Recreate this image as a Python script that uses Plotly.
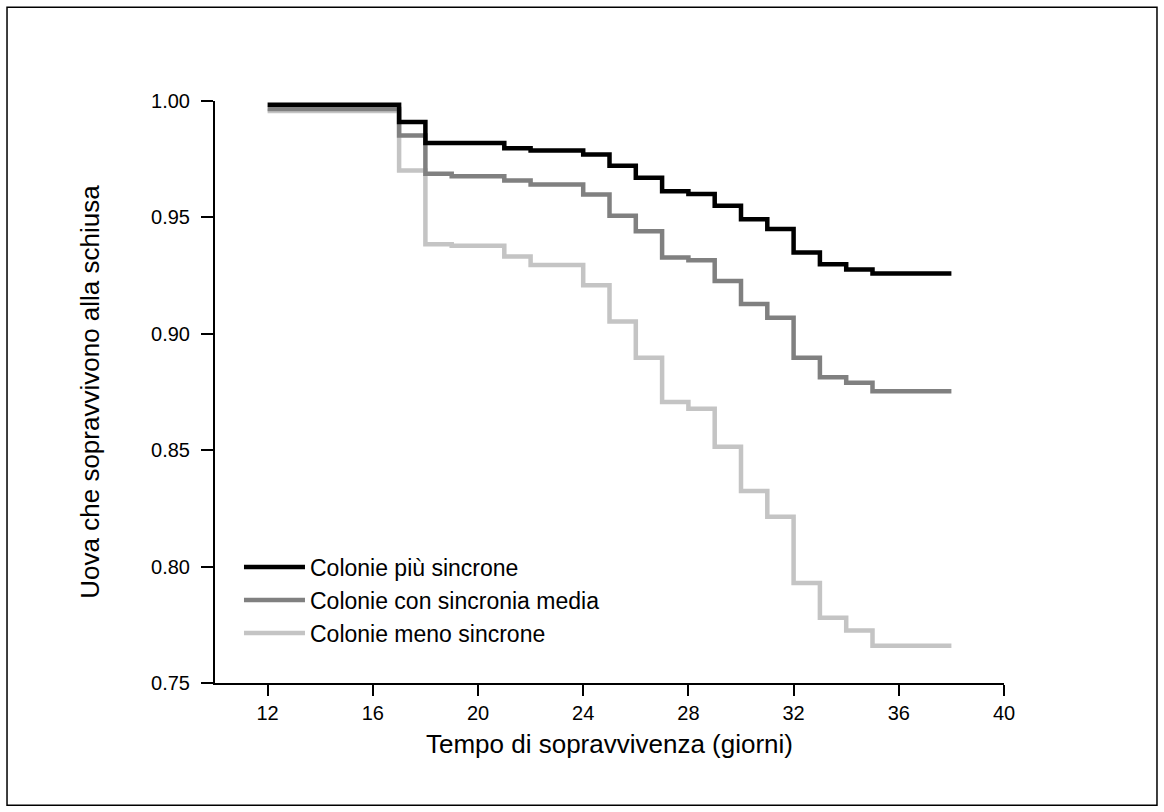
import plotly.graph_objects as go

# Survival data (days, survival fraction)
days_sync = [12, 17, 18, 21, 22, 24, 25, 26, 27, 28, 29, 30, 31, 32, 33, 34, 35, 38]
surv_sync = [0.9984, 0.9910, 0.9820, 0.9797, 0.9787, 0.9770, 0.9722, 0.9670, 0.9612,
             0.9601, 0.9550, 0.9492, 0.9450, 0.9349, 0.9299, 0.9276, 0.9259, 0.9259]

days_mid = [12, 17, 18, 19, 21, 22, 24, 25, 26, 27, 28, 29, 30, 31, 32, 33, 34, 35, 38]
surv_mid = [0.9966, 0.9852, 0.9687, 0.9677, 0.9658, 0.9641, 0.9598, 0.9507, 0.9440,
            0.9328, 0.9316, 0.9227, 0.9128, 0.9069, 0.8897, 0.8813, 0.8790, 0.8753, 0.8753]

days_less = [12, 17, 18, 19, 21, 22, 24, 25, 26, 27, 28, 29, 30, 31, 32, 33, 34, 35, 38]
surv_less = [0.9957, 0.9701, 0.9385, 0.9378, 0.9332, 0.9296, 0.9209, 0.9053, 0.8897,
             0.8707, 0.8678, 0.8515, 0.8325, 0.8214, 0.7930, 0.7780, 0.7725, 0.7660, 0.7660]

series_names = ["Colonie più sincrone", "Colonie con sincronia media", "Colonie meno sincrone"]
series_colors = ["#000000", "#808080", "#c4c4c4"]

x_ticks = [12, 16, 20, 24, 28, 32, 36, 40]
y_ticks = [0.75, 0.80, 0.85, 0.90, 0.95, 1.00]

FONT = "Liberation Sans, Arial, sans-serif"

fig = go.Figure()
# draw light first so darker lines sit on top
for d, s, n, c in reversed(list(zip([days_sync, days_mid, days_less],
                                    [surv_sync, surv_mid, surv_less],
                                    series_names, series_colors))):
    fig.add_trace(go.Scatter(x=d, y=s, mode="lines", name=n,
                             line=dict(color=c, width=4.5, shape="hv")))

fig.update_layout(
    width=1164, height=812,
    margin=dict(l=215, r=160, t=101, b=129),
    paper_bgcolor="white", plot_bgcolor="white",
    font=dict(family=FONT, size=20, color="#000000"),
    showlegend=True,
    legend=dict(x=0.0304, y=0.236, xanchor="left", yanchor="top",
                traceorder="reversed", bgcolor="rgba(0,0,0,0)",
                itemwidth=61,
                font=dict(family=FONT, size=23), tracegroupgap=0),
    xaxis=dict(range=[10, 40], tickvals=x_ticks, ticktext=[str(v) for v in x_ticks],
               showgrid=False, zeroline=False, showline=True, linecolor="black", linewidth=2,
               ticks="outside", ticklen=11, tickwidth=2, tickcolor="black",
               title=dict(text="Tempo di sopravvivenza (giorni)", standoff=12,
                          font=dict(size=26))),
    yaxis=dict(range=[0.75, 1.0], tickvals=y_ticks, tickformat=".2f",
               showgrid=False, zeroline=False, showline=True, linecolor="black", linewidth=2,
               ticks="outside", ticklen=12, tickwidth=2, tickcolor="black",
               ticklabelstandoff=7,
               title=dict(text="Uova che sopravvivono alla schiusa", standoff=44,
                          font=dict(size=26))),
    shapes=[dict(type="rect", xref="paper", yref="paper",
                 x0=-0.2636, x1=1.1939, y0=-0.2101, y1=1.161,
                 line=dict(color="black", width=1.5), fillcolor="rgba(0,0,0,0)", layer="below")],
)

fig.write_html("out.html")
